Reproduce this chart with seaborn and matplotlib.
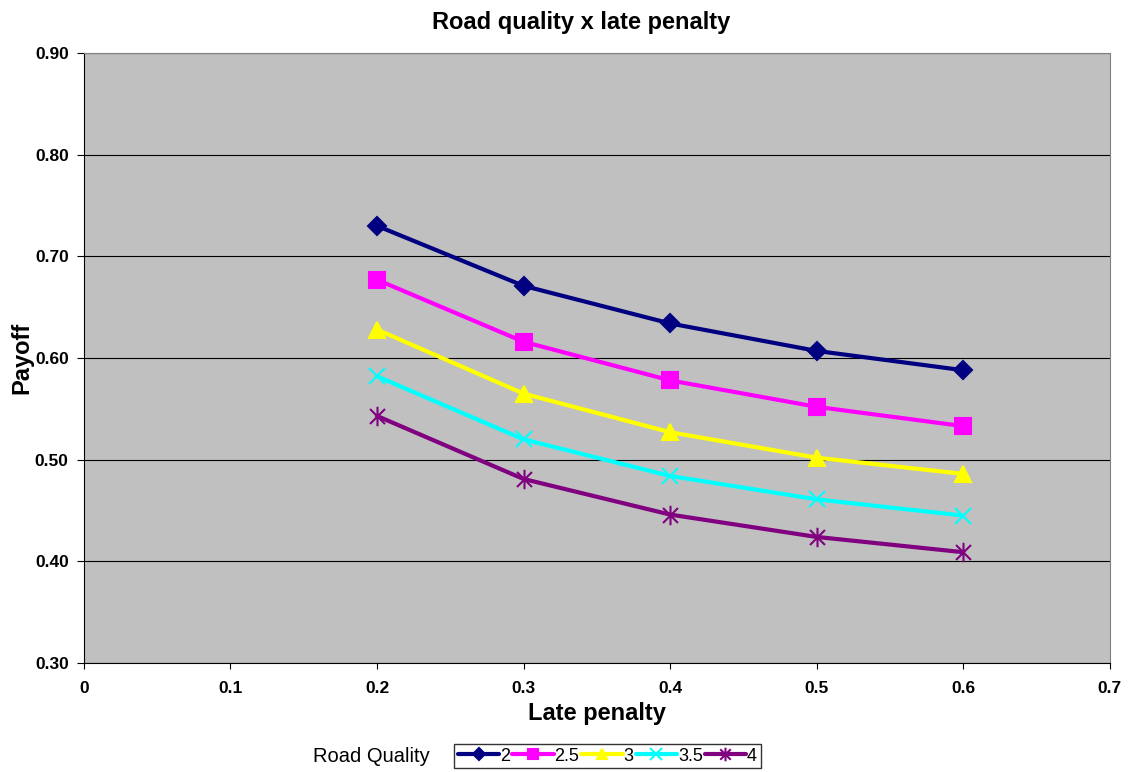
import numpy as np
import pandas as pd
import matplotlib
matplotlib.use("Agg")
import matplotlib.pyplot as plt
from matplotlib.path import Path
import seaborn as sns

# data
late_penalty = [0.2, 0.3, 0.4, 0.5, 0.6]
road_quality = ["2", "2.5", "3", "3.5", "4"]
payoff_2 = [0.730, 0.671, 0.634, 0.607, 0.588]
payoff_25 = [0.677, 0.616, 0.578, 0.552, 0.533]
payoff_3 = [0.628, 0.565, 0.527, 0.502, 0.486]
payoff_35 = [0.582, 0.520, 0.484, 0.461, 0.445]
payoff_4 = [0.543, 0.481, 0.446, 0.424, 0.409]

series = [payoff_2, payoff_25, payoff_3, payoff_35, payoff_4]
rows = []
for q, vals in zip(road_quality, series):
    for x, v in zip(late_penalty, vals):
        rows.append({"Late penalty": x, "Payoff": v, "Road Quality": q})
df = pd.DataFrame(rows)

sns.set_style("ticks")
plt.rcParams['font.family'] = ['Liberation Sans', 'DejaVu Sans']
plt.rcParams.update({"text.color": "black", "axes.labelcolor": "black",
                     "xtick.color": "black", "ytick.color": "black"})

# excel style star: X with a vertical bar
star = Path([(-1, -1), (1, 1), (-1, 1), (1, -1), (0, -1.3), (0, 1.3)],
            [Path.MOVETO, Path.LINETO, Path.MOVETO, Path.LINETO, Path.MOVETO, Path.LINETO])

colors = {"2": "#000080", "2.5": "#FF00FF", "3": "#FFFF00", "3.5": "#00FFFF", "4": "#800080"}
markers = {"2": "D", "2.5": "s", "3": "^", "3.5": "x", "4": star}
msizes = {"2": 9, "2.5": 11, "3": 11, "3.5": 12, "4": 14}

fig = plt.figure(figsize=(11.3, 7.72), dpi=100)
ax = fig.add_axes([0.0743, 0.1412, 0.9077, 0.7901])
ax.set_facecolor("#C0C0C0")

for q in road_quality:
    sub = df[df["Road Quality"] == q]
    face = "none" if q == "4" else colors[q]
    sns.lineplot(data=sub, x="Late penalty", y="Payoff", color=colors[q],
                 marker=markers[q], markersize=msizes[q], markeredgewidth=1.5,
                 markeredgecolor=colors[q], markerfacecolor=face,
                 linewidth=3, label=q, ax=ax)

ax.set_xlim(0, 0.7)
ax.set_ylim(0.30, 0.90)
ax.set_xticks(np.arange(0, 0.71, 0.1))
ax.set_xticklabels(["0", "0.1", "0.2", "0.3", "0.4", "0.5", "0.6", "0.7"])
ax.set_yticks(np.arange(0.3, 0.91, 0.1))
ax.set_yticklabels([f"{v:.2f}" for v in np.arange(0.3, 0.91, 0.1)])
ax.yaxis.grid(True, color="black", linewidth=0.8)
ax.set_axisbelow(True)
for lab in ax.get_xticklabels() + ax.get_yticklabels():
    lab.set_fontweight("bold")
    lab.set_fontsize(12.5)
ax.tick_params(axis="y", direction="out", length=5, color="black", pad=6)
ax.tick_params(axis="x", direction="out", length=4, color="black", pad=9)

for s in ["top", "right"]:
    ax.spines[s].set_color("#808080")
for s in ["left", "bottom"]:
    ax.spines[s].set_color("black")

ax.set_xlabel("Late penalty", fontsize=17, fontweight="bold", labelpad=4)
ax.set_ylabel("Payoff", fontsize=17, fontweight="bold", labelpad=1)
ax.set_title("Road quality x late penalty", fontsize=17, fontweight="bold", pad=17, x=0.4844)

handles, labels = ax.get_legend_handles_labels()
ax.get_legend().remove()
leg = fig.legend(handles, labels, loc="center", bbox_to_anchor=(0.5376, 0.0207), ncol=5,
                 frameon=True, fancybox=False, edgecolor="black", fontsize=13,
                 handlelength=2.3, handletextpad=0.05, columnspacing=0.1,
                 borderpad=0.2, borderaxespad=0, markerscale=0.7)
leg.get_frame().set_linewidth(1)
fig.text(0.3288, 0.0207, "Road Quality", fontsize=14.5, va="center", ha="center")

fig.savefig("out.png", dpi=100)
